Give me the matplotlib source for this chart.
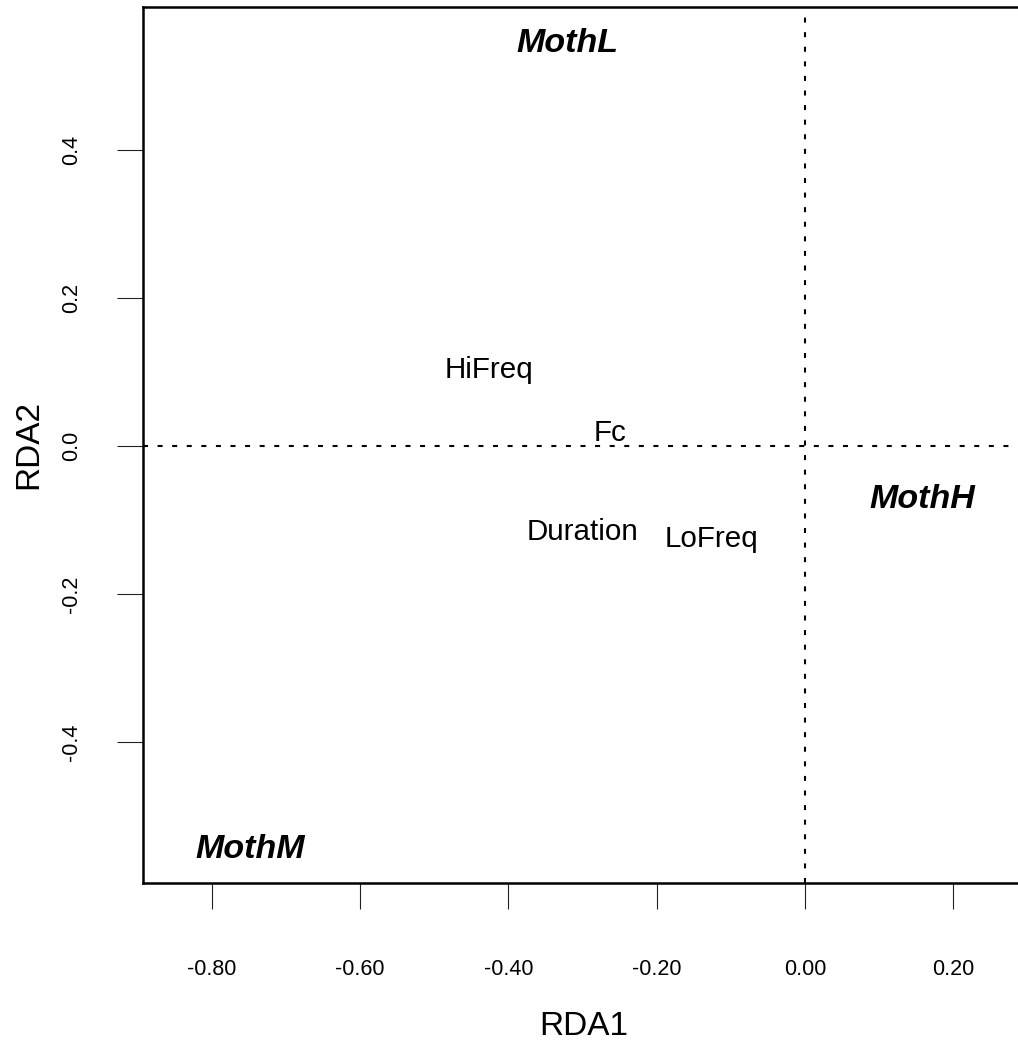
import numpy as np
import matplotlib
matplotlib.use("Agg")
import matplotlib.pyplot as plt
from matplotlib.transforms import offset_copy

plt.rcParams['font.family'] = ['Liberation Sans', 'DejaVu Sans']
plt.rcParams['axes.unicode_minus'] = False

# species scores (bold italic) and acoustic variables (plain)
species = ["MothL", "MothH", "MothM"]
species_x = [-0.3205, 0.158, -0.749]
species_y = [0.5486, -0.0676, -0.5405]

variables = ["HiFreq", "Fc", "Duration", "LoFreq"]
var_x = [-0.4258, -0.2632, -0.3003, -0.1255]
var_y = [0.1061, 0.0203, -0.1128, -0.123]

xticks = [-0.8, -0.6, -0.4, -0.2, 0.0, 0.2]
xticklabels = ["-0.80", "-0.60", "-0.40", "-0.20", "0.00", "0.20"]
yticks = [-0.4, -0.2, 0.0, 0.2, 0.4]
yticklabels = ["-0.4", "-0.2", "0.0", "0.2", "0.4"]

fig = plt.figure(figsize=(10.18, 10.40), dpi=100)
ax = fig.add_axes([143/1018, (1040-882.5)/1040, 1 - 143/1018, (882.5-7)/1040])

ax.set_xlim(-0.893, 0.2874)
ax.set_ylim(-0.590, 0.593)

# dashed zero lines
dash = (0, (2.4, 4.6))
ax.axhline(0, color='black', lw=1.5, linestyle=dash, zorder=1)
ax.axvline(0, color='black', lw=1.5, linestyle=dash, zorder=1)

def centred(size):
    # shift baseline down by half the cap height so the caps sit centred on the point
    return offset_copy(ax.transData, fig=fig, y=-0.358*size, units='points')

for name, x, y in zip(variables, var_x, var_y):
    ax.text(x, y, name, fontsize=21.3, ha='center', va='baseline',
            transform=centred(21.3), zorder=3)

for name, x, y in zip(species, species_x, species_y):
    ax.text(x, y, name, fontsize=24.5, fontweight='bold', fontstyle='italic',
            ha='center', va='baseline', transform=centred(24.5), zorder=3)

for s in ['left', 'bottom', 'top']:
    ax.spines[s].set_linewidth(1.8)
ax.spines['right'].set_visible(False)

ax.set_xticks(xticks)
ax.set_xticklabels(xticklabels)
ax.set_yticks(yticks)
ax.set_yticklabels(yticklabels, rotation=90, va='center')
ax.tick_params(axis='both', length=19, width=0.8, color='#222222', labelsize=15.5)
ax.tick_params(axis='x', pad=36)
ax.tick_params(axis='y', pad=25)

fig.text(583.5/1018, (1040-1035)/1040, "RDA1", fontsize=24, ha='center', va='baseline')
fig.text(13/1018, 1 - 444.5/1040, "RDA2", fontsize=24, rotation=90, ha='left', va='center')

plt.savefig("out.png", dpi=100)
